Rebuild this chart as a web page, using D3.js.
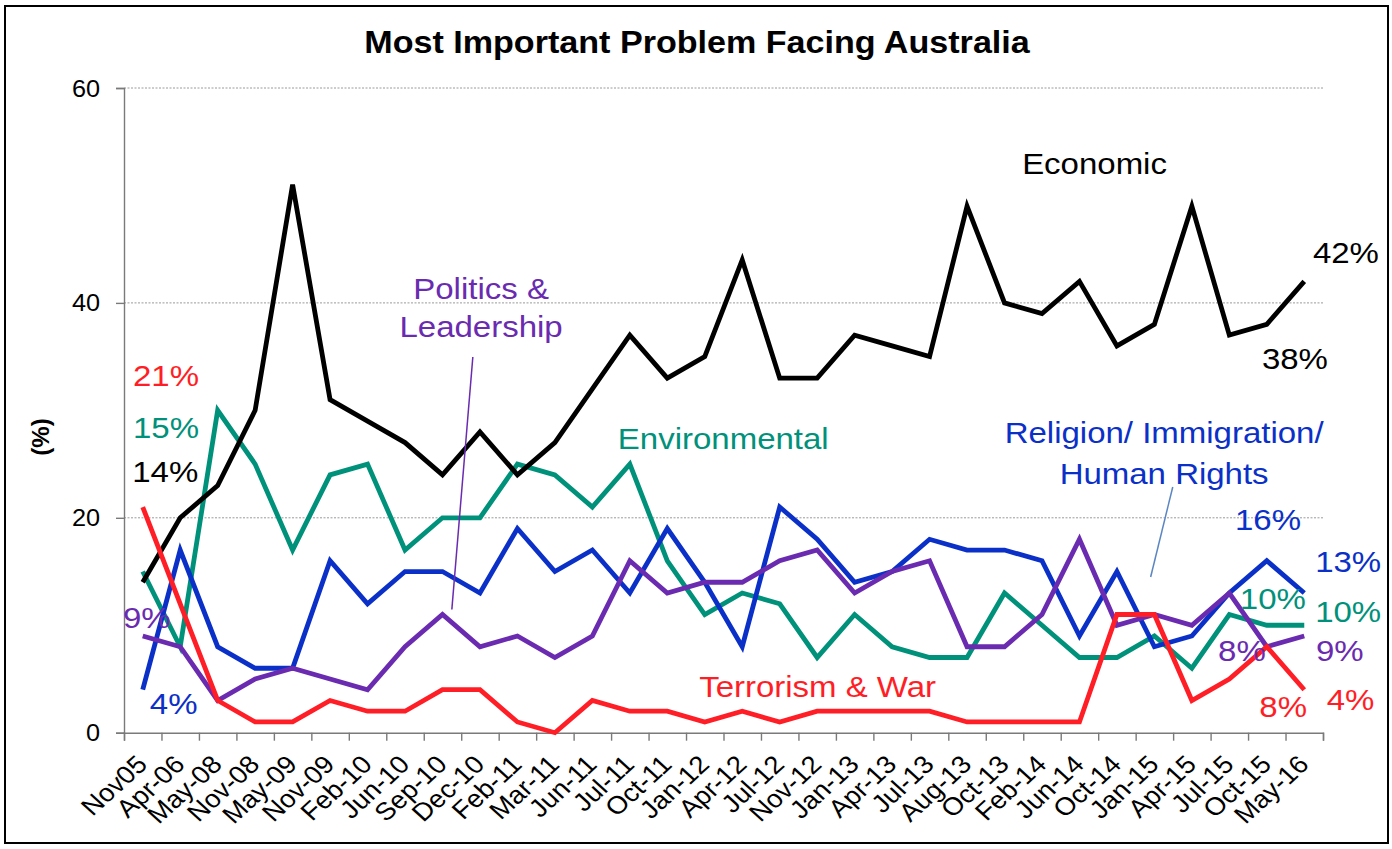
<!DOCTYPE html>
<html>
<head>
<meta charset="utf-8">
<script src="https://cdn.jsdelivr.net/npm/d3@7"></script>
<style>
  html, body { margin: 0; padding: 0; background: #fff; }
  svg { display: block; font-family: "Liberation Sans", Arial, sans-serif; }
</style>
</head>
<body>
<svg id="chart" width="1392" height="849"></svg>
<script>
// ---------------- data ----------------
const categories = ["Nov05","Apr-06","May-08","Nov-08","May-09","Nov-09","Feb-10","Jun-10","Sep-10","Dec-10",
  "Feb-11","Mar-11","Jun-11","Jul-11","Oct-11","Jan-12","Apr-12","Jul-12","Nov-12","Jan-13","Apr-13","Jul-13",
  "Aug-13","Oct-13","Feb-14","Jun-14","Oct-14","Jan-15","Apr-15","Jul-15","Oct-15","May-16"];

const economic      = [14,20,23,30,51,31,29,27,24,28,24,27,32,37,33,35,44,33,33,37,36,35,49,40,39,42,36,38,49,37,38,42];
const environmental = [15,8,30,25,17,24,25,17,20,20,25,24,21,25,16,11,13,12,7,11,8,7,7,13,10,7,7,9,6,11,10,10];
const religion      = [4,17,8,6,6,16,12,15,15,13,19,15,17,13,19,14,8,21,18,14,15,18,17,17,16,9,15,8,9,13,16,13];
const politics      = [9,8,3,5,6,5,4,8,11,8,9,7,9,16,13,14,14,16,17,13,15,16,8,8,11,18,10,11,10,13,8,9];
const terrorism     = [21,12,3,1,1,3,2,2,4,4,1,0,3,2,2,1,2,1,2,2,2,2,1,1,1,1,11,11,3,5,8,4];

const yTicks = [0, 20, 40, 60];
const title = "Most Important Problem Facing Australia";
const yTitle = "(%)";

// ---------------- layout / style ----------------
const W = 1392, H = 849;
const plot = { left: 124, right: 1323, top: 88, bottom: 732.7 };
const SX = 1.1; // horizontal text stretch of the original export

const colors = {
  economic: "#000000",
  environmental: "#00917B",
  religion: "#0A30C8",
  politics: "#6A2BB0",
  terrorism: "#FF1E26",
  religionLeader: "#5B86C2"
};

const series = [
  { key: "environmental", values: environmental },
  { key: "economic", values: economic },
  { key: "religion", values: religion },
  { key: "politics", values: politics },
  { key: "terrorism", values: terrorism }
];

const svg = d3.select("#chart");
svg.append("rect").attr("width", W).attr("height", H).attr("fill", "#fff");

const x = d3.scaleBand().domain(categories).range([plot.left, plot.right]).padding(0);
const xi = d3.scaleLinear().domain([-0.5, categories.length - 0.5]).range([plot.left, plot.right]);
const y = d3.scaleLinear().domain([0, 60]).range([plot.bottom, plot.top]);
const cx = c => x(c) + x.bandwidth() / 2;

function stretchedText(g, px, py, txt, opts) {
  const t = g.append("text")
    .attr("transform", `translate(${px},${py}) scale(${SX},1)` + (opts.rotate ? ` rotate(${opts.rotate})` : ""))
    .attr("font-size", opts.size)
    .attr("fill", opts.fill || "#000")
    .attr("text-anchor", opts.anchor || "start")
    .text(txt);
  if (opts.bold) t.attr("font-weight", "bold");
  return t;
}

// gridlines
svg.append("g").selectAll("line").data(yTicks.filter(d => d > 0)).join("line")
  .attr("x1", plot.left).attr("x2", plot.right)
  .attr("y1", d => y(d)).attr("y2", d => y(d))
  .attr("stroke", "#9a9a9a").attr("stroke-width", 1).attr("stroke-dasharray", "2,1.5");

// y axis
const yAxis = d3.axisLeft(y).tickValues(yTicks).tickSize(8).tickFormat("");
const gy = svg.append("g").attr("transform", `translate(${plot.left},0)`).call(yAxis);
gy.select(".domain").attr("stroke", "#7a7a7a").attr("stroke-width", 1.4);
gy.selectAll(".tick line").attr("stroke", "#7a7a7a").attr("stroke-width", 1.4);
const gyl = svg.append("g");
yTicks.forEach(v => stretchedText(gyl, 100, y(v) + 8.5, String(v), { size: 23, anchor: "end" }));

// x axis (ticks on category boundaries)
const xAxis = d3.axisBottom(xi).tickValues(d3.range(-0.5, categories.length, 1)).tickSize(8).tickFormat("");
const gx = svg.append("g").attr("transform", `translate(0,${plot.bottom})`).call(xAxis);
gx.select(".domain").attr("stroke", "#7a7a7a").attr("stroke-width", 1.4);
gx.selectAll(".tick line").attr("stroke", "#7a7a7a").attr("stroke-width", 1.4);
const gxl = svg.append("g");
categories.forEach(c => stretchedText(gxl, cx(c) + 6, 766, c, { size: 25, anchor: "end", rotate: -45 }));

// lines
const line = d3.line().x((d, i) => cx(categories[i])).y(d => y(d));
svg.append("g").selectAll("path").data(series).join("path")
  .attr("d", s => line(s.values))
  .attr("fill", "none")
  .attr("stroke", s => colors[s.key])
  .attr("stroke-width", 4.8)
  .attr("stroke-linejoin", "miter");

// leader lines (positions in data units: category index, value)
const leaders = [
  { from: [8.81, 34.97], to: [8.25, 11.47], color: colors.politics, w: 1.5 },
  { from: [27.49, 22.87], to: [26.9, 14.49], color: colors.religionLeader, w: 1.5 }
];
svg.append("g").selectAll("line").data(leaders).join("line")
  .attr("x1", d => xi(d.from[0])).attr("y1", d => y(d.from[1]))
  .attr("x2", d => xi(d.to[0])).attr("y2", d => y(d.to[1]))
  .attr("stroke", d => d.color).attr("stroke-width", d => d.w);

// annotations (category index, value) -> baseline position
const annotations = [
  { t: "Economic", i: 23.47, v: 52.0, c: "economic" },
  { t: "42%", i: 31.23, v: 43.7, c: "economic" },
  { t: "38%", i: 29.87, v: 33.85, c: "economic" },
  { t: "14%", i: -0.28, v: 23.33, c: "economic" },
  { t: "Politics &", i: 9.03, v: 40.36, c: "politics", a: "middle" },
  { t: "Leadership", i: 9.03, v: 36.83, c: "politics", a: "middle" },
  { t: "9%", i: -0.53, v: 9.74, c: "politics" },
  { t: "8%", i: 28.70, v: 6.67, c: "politics" },
  { t: "9%", i: 31.31, v: 6.67, c: "politics" },
  { t: "Environmental", i: 12.68, v: 26.4, c: "environmental" },
  { t: "15%", i: -0.26, v: 27.43, c: "environmental" },
  { t: "10%", i: 29.28, v: 11.47, c: "environmental" },
  { t: "10%", i: 31.29, v: 10.26, c: "environmental" },
  { t: "Religion/ Immigration/", i: 27.26, v: 26.96, c: "religion", a: "middle" },
  { t: "Human Rights", i: 27.26, v: 23.15, c: "religion", a: "middle" },
  { t: "4%", i: 0.19, v: 1.74, c: "religion" },
  { t: "16%", i: 29.15, v: 18.86, c: "religion" },
  { t: "13%", i: 31.29, v: 14.91, c: "religion" },
  { t: "Terrorism & War", i: 14.85, v: 3.32, c: "terrorism" },
  { t: "21%", i: -0.26, v: 32.27, c: "terrorism" },
  { t: "8%", i: 29.80, v: 1.46, c: "terrorism" },
  { t: "4%", i: 31.60, v: 2.11, c: "terrorism" }
];
const ga = svg.append("g");
annotations.forEach(a => stretchedText(ga, xi(a.i), y(a.v), a.t,
  { size: 30, fill: colors[a.c], anchor: a.a || "start" }));

// title and y-axis title
stretchedText(svg, 697, 53, title, { size: 31, anchor: "middle", bold: true });
svg.append("text")
  .attr("transform", "translate(49,437) rotate(-90)")
  .attr("text-anchor", "middle")
  .attr("font-size", 24).attr("font-weight", "bold")
  .text(yTitle);

// outer border
svg.append("rect").attr("x", 5).attr("y", 6).attr("width", 1383).attr("height", 837)
  .attr("fill", "none").attr("stroke", "#000").attr("stroke-width", 2);
</script>
</body>
</html>
